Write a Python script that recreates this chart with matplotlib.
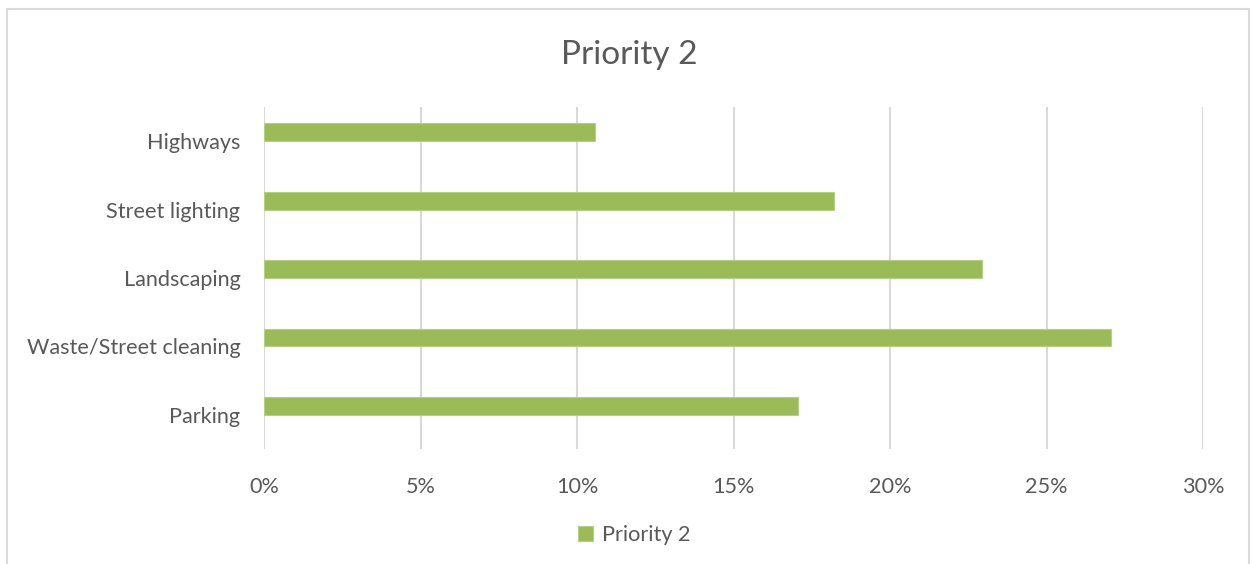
import matplotlib.pyplot as plt
from matplotlib.patches import Rectangle
from matplotlib.ticker import PercentFormatter

BAR_COLOR = "#9BBB59"
TEXT_COLOR = "#595959"
GRID_COLOR = "#D9D9D9"

categories = ["Parking", "Waste/Street cleaning", "Landscaping", "Street lighting", "Highways"]
values = [17.05, 27.05, 22.93, 18.22, 10.58]
series_name = "Priority 2"
x_ticks = [0, 5, 10, 15, 20, 25, 30]

plt.rcParams["font.family"] = ["Lato", "DejaVu Sans"]

fig = plt.figure(figsize=(12.53, 5.64), dpi=100)
ax = fig.add_axes([0.2107, 0.2039, 0.7494, 0.6064])

# outer chart border (bottom edge runs off the image)
fig.patches.append(Rectangle((7 / 1253, -0.05), 1242 / 1253, 1 - 9 / 564 + 0.05,
                             transform=fig.transFigure, fill=False,
                             edgecolor=GRID_COLOR, linewidth=1.5))

ypos = list(range(len(categories)))
ax.barh(ypos, values, height=0.26, align="edge", color=BAR_COLOR,
        edgecolor="#B5CF87", linewidth=0.8, label=series_name, zorder=3)

ax.set_xlim(0, 30)
ax.set_ylim(-0.5, len(categories) - 0.5)
ax.set_xticks(x_ticks)
ax.xaxis.set_major_formatter(PercentFormatter(decimals=0))
ax.set_yticks(ypos)
ax.set_yticklabels(categories)

ax.grid(axis="x", color=GRID_COLOR, linewidth=1.5, zorder=0)
for spine in ax.spines.values():
    spine.set_visible(False)
ax.tick_params(axis="x", length=0, pad=20, labelsize=15.6, labelcolor=TEXT_COLOR)
ax.tick_params(axis="y", length=0, pad=17, labelsize=15.6, labelcolor=TEXT_COLOR)

fig.text(629 / 1253, 1 - 55 / 564, "Priority 2", ha="center", va="center",
         fontsize=24, color=TEXT_COLOR)

handles, labels = ax.get_legend_handles_labels()
fig.legend(handles, labels, loc="center", bbox_to_anchor=(634 / 1253, 1 - 535 / 564),
           frameon=False, fontsize=15.6, labelcolor=TEXT_COLOR,
           handlelength=0.7, handleheight=0.7, handletextpad=0.4)

fig.savefig("out.png", dpi=100, facecolor="white")
